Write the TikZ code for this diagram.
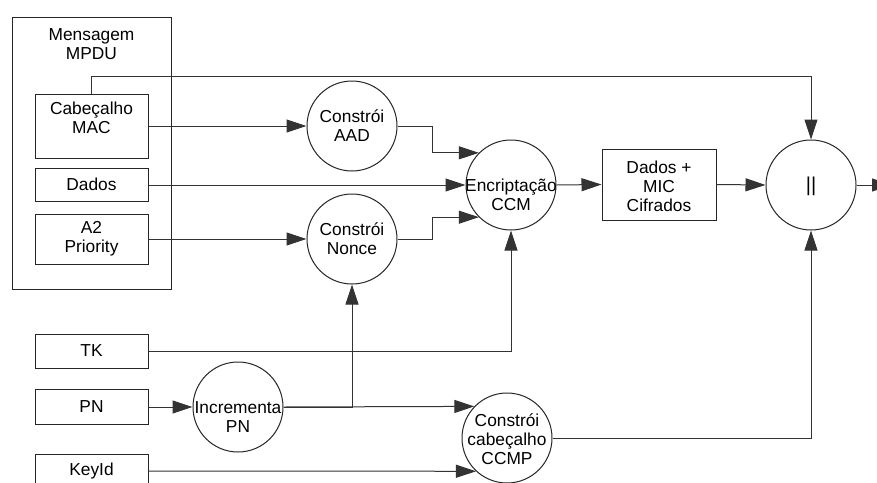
\documentclass[tikz,border=0pt]{standalone}
\usepackage{fontspec}
\setmainfont{Liberation Sans}
\usetikzlibrary{arrows.meta}
\begin{document}
\begin{tikzpicture}[x=0.75pt,y=-0.75pt,
  font=\fontsize{13}{14.3}\selectfont,
  line width=0.75pt,
  box/.style={draw=black!85, inner sep=0pt, align=center, minimum width=84.75pt},
  proc/.style={draw=black!85, circle, inner sep=0pt, minimum size=67.5pt},
  txt/.style={align=center, inner sep=0pt},
  arr/.style={draw=black!80, -{Triangle[length=15pt,width=9.75pt]}},
  wire/.style={draw=black!80}]
\useasboundingbox (0,0) rectangle (877,482);
\clip (0,0) rectangle (877,482);
\fill[white] (0,0) rectangle (877,482);

% MPDU frame and its fields
\node[box, minimum width=119.25pt, minimum height=204pt] (mpdu) at (91.5,153) {};
\node[txt] (mpdut) at (91.5,44) {Mensagem\\MPDU};
\node[box, minimum height=48pt] (mac) at (91.5,126) {};
\node[txt] (mact) at (91.5,118) {Cabeçalho\\MAC};
\node[box, minimum height=24.75pt] (dados) at (91.5,184.5) {Dados};
\node[box, minimum height=37.5pt] (a2) at (91.5,239) {A2\\Priority};

% key material
\node[box, minimum height=25.5pt] (tk) at (91.5,351) {TK};
\node[box, minimum height=26.25pt] (pn) at (91.5,406.5) {PN};
\node[box, minimum height=25.5pt] (keyid) at (91.5,471) {KeyId};

% processing steps
\node[proc] (aad) at (352,126) {};
\node[txt] (aadt) at (352,126) {Constrói\\AAD};
\node[proc] (nonce) at (352,239) {};
\node[txt] (noncet) at (352,239) {Constrói\\Nonce};
\node[proc] (enc) at (511,185) {};
\node[txt] (enct) at (511,195) {Encriptação\\CCM};
\node[box, minimum width=85.5pt, minimum height=53.25pt] (mic) at (659,184.5) {};
\node[txt] (mict) at (659,186) {Dados +\\MIC\\Cifrados};
\node[proc] (cat) at (811,185) {};
\node[txt, font=\fontsize{15}{16}\selectfont] (catt) at (811,186) {||};
\node[proc] (inc) at (238,407) {};
\node[txt] (inct) at (238,417) {Incrementa\\PN};
\node[proc] (ccmp) at (507,438) {};
\node[txt] (ccmpt) at (507,439) {Constrói\\cabeçalho\\CCMP};
\coordinate (out) at (892,185);

% connections
\draw[arr] (mac.north) -- ++(0,-17) -| (cat.north);
\draw[arr] (mac.east |- aad.west) -- (aad.west);
\draw[arr] (dados.east |- enc.west) -- (enc.west);
\draw[arr] (a2.east |- nonce.west) -- (nonce.west);
\draw[arr] (aad.east) -- (432,126) |- (enc.135);
\draw[arr] (nonce.east) -- (432,239) |- (enc.225);
\draw[arr] (enc.east) -- (mic.west);
\draw[arr] (mic.east) -- (cat.west);
\draw[arr] (cat.east) -- (out);
\draw[arr] (tk.east) -| (enc.south);
\draw[arr] (pn.east |- inc.west) -- (inc.west);
\draw[arr] (inc.east) -| (nonce.south);
\draw[arr] (inc.east) -- (ccmp.136);
\draw[arr] (keyid.east) -- (ccmp.227);
\draw[arr] (ccmp.east) -| (cat.south);
\end{tikzpicture}
\end{document}
